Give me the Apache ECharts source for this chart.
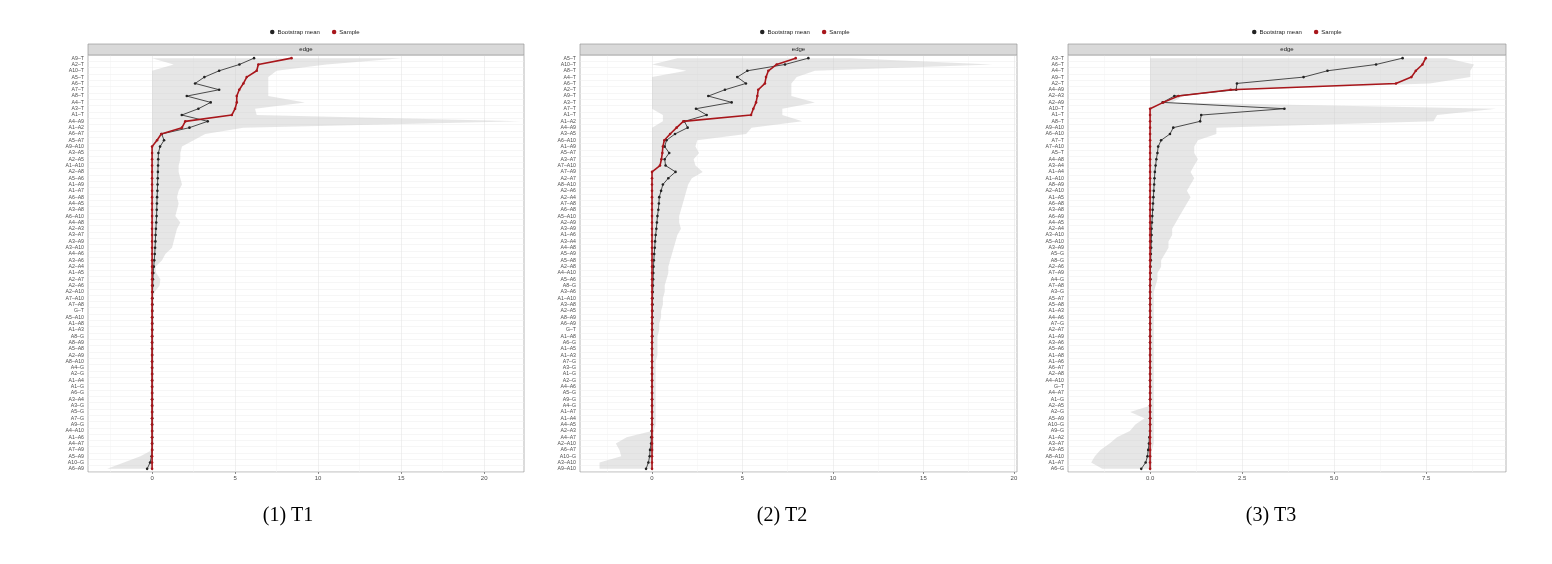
<!DOCTYPE html>
<html><head><meta charset="utf-8">
<script src="https://cdn.jsdelivr.net/npm/echarts@6/dist/echarts.min.js"></script>
<style>html,body{margin:0;padding:0;background:#fff}#c{width:1552px;height:564px}</style>
</head><body><div id="c"></div>
<script>
const cats1 = ['A9–T','A2–T','A10–T','A5–T','A6–T','A7–T','A8–T','A4–T','A3–T','A1–T','A4–A9','A1–A2','A6–A7','A5–A7','A9–A10','A3–A5','A2–A5','A1–A10','A2–A8','A5–A6','A1–A9','A1–A7','A6–A8','A4–A5','A3–A8','A6–A10','A4–A8','A2–A3','A3–A7','A3–A9','A3–A10','A4–A6','A3–A6','A2–A4','A1–A5','A2–A7','A2–A6','A2–A10','A7–A10','A7–A8','G–T','A5–A10','A1–A8','A1–A3','A8–G','A8–A9','A5–A8','A2–A9','A8–A10','A4–G','A2–G','A1–A4','A1–G','A6–G','A3–A4','A3–G','A5–G','A7–G','A9–G','A4–A10','A1–A6','A4–A7','A7–A9','A5–A9','A10–G','A6–A9'];
const sample1 = [8.4,6.4,6.3,5.7,5.5,5.25,5.1,5.1,5.0,4.8, 2.0,1.8,0.55,0.3,0,0,0,0,0,0, 0,0,0,0,0,0,0,0,0,0, 0,0,0,0,0,0,0,0,0,0, 0,0,0,0,0,0,0,0,0,0, 0,0,0,0,0,0,0,0,0,0, 0,0,0,0,0,0];
const mean1 = [6.14,5.26,4.04,3.15,2.59,4.04,2.09,3.53,2.79,1.79, 3.35,2.25,0.58,0.72,0.48,0.38,0.37,0.36,0.35,0.34, 0.33,0.32,0.3,0.29,0.28,0.27,0.25,0.23,0.21,0.2, 0.18,0.16,0.13,0.1,0.07,0.05,0.04,0.03,0.02,0.02, 0.01,0.01,0.01,0.01,0,0,0,0,0,0, 0,0,0,0,0,0,0,0,0,0, 0,0,0,-0.03,-0.12,-0.3];
const lower1 = [0,1.3,0,0,0,0,0,0,0,0, 0,0,0,0,0,0,0,0,0,0, 0,0,0,0,0,0,0,0,0,0, 0,0,0,0,0,0,0,0,0,0, 0,0,0,0,0,0,0,0,0,0, 0,0,0,0,0,0,0,0,0,0, 0,0,0,-0.7,-1.7,-2.7];
const upper1 = [15,10.5,7.5,7,7,7,7,9.2,6.2,6.3, 22.2,5.5,3.2,2.5,1.8,1.7,1.7,1.6,1.6,1.7, 1.8,1.6,1.5,1.6,1.5,1.4,1.7,1.5,1.4,1.3, 1.2,0.8,0.6,0.2,0.25,0.5,0.45,0.15,0.1,0.1, 0.1,0.1,0.1,0.1,0.1,0.1,0.1,0.1,0.1,0.1, 0.1,0.1,0.1,0.1,0.1,0.1,0.1,0.1,0.1,0.1, 0.1,0.1,0.05,0.05,0.05,0.05];

const cats2 = ['A5–T','A10–T','A8–T','A4–T','A6–T','A2–T','A9–T','A3–T','A7–T','A1–T','A1–A2','A4–A9','A3–A5','A6–A10','A1–A9','A5–A7','A3–A7','A7–A10','A7–A9','A2–A7','A8–A10','A2–A6','A2–A4','A7–A8','A6–A8','A5–A10','A2–A9','A3–A9','A1–A6','A3–A4','A4–A8','A5–A9','A5–A8','A2–A8','A4–A10','A5–A6','A8–G','A3–A6','A1–A10','A3–A8','A2–A5','A8–A9','A6–A9','G–T','A1–A8','A6–G','A1–A5','A1–A3','A7–G','A3–G','A1–G','A2–G','A4–A6','A5–G','A9–G','A4–G','A1–A7','A1–A4','A4–A5','A2–A3','A4–A7','A2–A10','A6–A7','A10–G','A3–A10','A9–A10'];
const sample2 = [7.94,6.89,6.43,6.3,6.24,5.87,5.82,5.75,5.6,5.47, 1.73,1.36,1.0,0.68,0.6,0.57,0.52,0.44,0,0, 0,0,0,0,0,0,0,0,0,0, 0,0,0,0,0,0,0,0,0,0, 0,0,0,0,0,0,0,0,0,0, 0,0,0,0,0,0,0,0,0,0, 0,0,0,0,0,0];
const mean2 = [8.64,7.35,5.27,4.71,5.19,4.03,3.11,4.4,2.43,3.02, 1.79,1.97,1.27,0.8,0.7,0.95,0.7,0.75,1.3,0.9, 0.6,0.5,0.4,0.38,0.35,0.3,0.27,0.24,0.2,0.17, 0.15,0.12,0.1,0.08,0.07,0.06,0.05,0.04,0.03,0.03, 0.02,0.02,0.01,0.01,0.01,0,0,0,0,0, 0,0,0,0,0,0,0,0,0,-0.02, -0.04,-0.05,-0.11,-0.13,-0.2,-0.33];
const lower2 = [1.4,0,1.9,0,0,0,0,0,0,0.6, 0.6,0,0,0,0,0,0,0,0,0, 0,0,0,0,0,0,0,0,0,0, 0,0,0,0,0,0,0,0,0,0, 0,0,0,0,0,0,0,0,0,0, 0,0,0,0,0,0,0,0,0,0, -1.4,-2.0,-1.8,-1.7,-2.9,-2.9];
const upper2 = [11,18.8,9,8,7.7,7.7,7.7,9,7.2,7.2, 8.3,5.5,5.2,2.5,2.4,2.6,2.3,2.4,2.8,2.2, 2.0,1.9,1.8,1.7,1.6,1.5,1.5,1.6,1.4,1.3, 1.2,1.1,1.0,0.9,0.9,0.8,0.7,0.7,0.6,0.6, 0.5,0.5,0.4,0.4,0.3,0.3,0.3,0.3,0.2,0.2, 0.2,0.2,0.2,0.2,0.2,0.2,0.2,0.2,0.2,0.1, 0.1,0.1,0.1,0.05,0.05,0.05];

const cats3 = ['A3–T','A6–T','A4–T','A9–T','A2–T','A4–A9','A2–A3','A2–A9','A10–T','A1–T','A8–T','A9–A10','A6–A10','A7–T','A7–A10','A5–T','A4–A8','A3–A4','A1–A4','A1–A10','A8–A9','A2–A10','A1–A5','A6–A8','A3–A8','A6–A9','A4–A5','A2–A4','A3–A10','A5–A10','A3–A9','A5–G','A8–G','A2–A6','A7–A9','A4–G','A7–A8','A3–G','A5–A7','A5–A8','A1–A3','A4–A6','A7–G','A2–A7','A1–A9','A3–A6','A5–A6','A1–A8','A1–A6','A6–A7','A2–A8','A4–A10','G–T','A4–A7','A1–G','A2–A5','A2–G','A5–A9','A10–G','A9–G','A1–A2','A3–A7','A3–A5','A8–A10','A1–A7','A6–G'];
const sample3 = [7.49,7.4,7.22,7.1,6.68,2.19,0.77,0.36,0,0, 0,0,0,0,0,0,0,0,0,0, 0,0,0,0,0,0,0,0,0,0, 0,0,0,0,0,0,0,0,0,0, 0,0,0,0,0,0,0,0,0,0, 0,0,0,0,0,0,0,0,0,0, 0,0,0,0,0,0];
const mean3 = [6.86,6.14,4.82,4.17,2.36,2.34,0.66,0.34,3.65,1.39, 1.36,0.63,0.54,0.3,0.22,0.2,0.17,0.15,0.13,0.12, 0.11,0.1,0.09,0.08,0.07,0.06,0.05,0.04,0.04,0.03, 0.03,0.02,0.02,0.01,0.01,0.01,0,0,0,0, 0,0,0,0,0,0,0,0,0,0, 0,0,0,0,0,0,0,0,0,0, -0.02,-0.03,-0.05,-0.07,-0.12,-0.24];
const lower3 = [0,0,0,0,0,0,0,0,0,0, 0,0,0,0,0,0,0,0,0,0, 0,0,0,0,0,0,0,0,0,0, 0,0,0,0,0,0,0,0,0,0, 0,0,0,0,0,0,0,0,0,0, 0,0,0,0,0,0,-0.54,-0.15,-0.4,-0.55, -0.9,-1.1,-1.35,-1.5,-1.6,-1.3];
const upper3 = [8.06,8.8,8.7,8.7,7.6,2.5,0.9,0.6,9.4,7.8, 7.7,1.8,1.8,1.3,1.2,1.2,1.3,1.2,1.1,1.2, 1.1,1.0,1.1,1.0,0.9,0.8,0.7,0.6,0.6,0.5, 0.5,0.4,0.3,0.3,0.2,0.2,0.15,0.1,0.1,0.1, 0.1,0.1,0.1,0.1,0.1,0.1,0.1,0.1,0.1,0.1, 0.1,0.1,0.1,0.1,0.1,0.1,0.1,0.1,0.1,0.1, 0.1,0.1,0.05,0.05,0.05,0.05];

const majorTicks1 = [0,5,10,15,20];
const minorTicks1 = [-2.5,2.5,7.5,12.5,17.5];
const majorTicks2 = [0,5,10,15,20];
const minorTicks2 = [-2.5,2.5,7.5,12.5,17.5];
const majorTicks3 = [0,2.5,5,7.5];
const minorTicks3 = [-1.25,1.25,3.75,6.25,8.75];
const captions = ['(1) T1','(2) T2','(3) T3'];
const legendNames = ['Bootstrap mean','Sample'];

const panels = [
  {cats:cats1, sample:sample1, mean:mean1, lo:lower1, hi:upper1, major:majorTicks1, minor:minorTicks1, min:-3.86, max:22.4, left:88, right:524, fmt:v=>String(v), cap:captions[0], capX:288, legX:265},
  {cats:cats2, sample:sample2, mean:mean2, lo:lower2, hi:upper2, major:majorTicks2, minor:minorTicks2, min:-3.98, max:20.17, left:580, right:1017, fmt:v=>String(v), cap:captions[1], capX:782, legX:755},
  {cats:cats3, sample:sample3, mean:mean3, lo:lower3, hi:upper3, major:majorTicks3, minor:minorTicks3, min:-2.23, max:9.67, left:1068, right:1506, fmt:v=>v.toFixed(1), cap:captions[2], capX:1271, legX:1247}
];
const TOP = 55, BOTTOM = 472;
const grids = [], xAxes = [], yAxes = [], series = [], legends = [], graphics = [];
panels.forEach((p, g) => {
  grids.push({left:p.left, top:TOP, width:p.right-p.left, height:BOTTOM-TOP, show:true, borderColor:'#9a9a9a', borderWidth:0.7, backgroundColor:'#fff', containLabel:false});
  xAxes.push({gridIndex:g, type:'value', position:'bottom', min:p.min, max:p.max,
    axisLine:{show:false, onZero:false}, axisTick:{show:true, length:2, customValues:p.major, lineStyle:{color:'#444', width:0.6}},
    axisLabel:{customValues:p.major, fontSize:6, color:'#4D4D4D', margin:3, formatter:p.fmt, fontFamily:'Liberation Sans'},
    splitLine:{show:true, lineStyle:{color:'#e6e6e6', width:0.6}}});
  xAxes.push({gridIndex:g, type:'value', position:'top', min:p.min, max:p.max,
    axisLine:{show:false, onZero:false}, axisTick:{show:false, customValues:p.minor}, axisLabel:{show:false, customValues:p.minor},
    splitLine:{show:true, lineStyle:{color:'#f2f2f2', width:0.5}}});
  yAxes.push({gridIndex:g, type:'category', data:p.cats, inverse:true, boundaryGap:true, position:'left',
    axisLine:{show:false, onZero:false}, axisTick:{show:false},
    axisLabel:{interval:0, fontSize:5.2, color:'#4D4D4D', margin:4, fontFamily:'Liberation Sans'},
    splitLine:{show:true, interval:0, lineStyle:{color:'#ececec', width:0.5}}});
  const lo = p.lo, hi = p.hi, n = p.cats.length;
  series.push({type:'custom', name:'band'+g, xAxisIndex:g*2, yAxisIndex:g, silent:true, z:1, clip:true,
    data: p.cats.map((c,i)=>[lo[i], hi[i], i]),
    encode:{x:[0,1], y:2},
    renderItem:(params, api) => {
      if (params.dataIndex !== 0) return null;
      const pts = [];
      for (let i=0;i<n;i++) pts.push(api.coord([hi[i], i]));
      for (let i=n-1;i>=0;i--) pts.push(api.coord([lo[i], i]));
      return {type:'polygon', shape:{points:pts}, style:{fill:'rgba(200,200,200,0.45)', stroke:null}};
    }});
  series.push({type:'line', name:legendNames[0], xAxisIndex:g*2, yAxisIndex:g, z:3,
    data:p.mean.map((v,i)=>[v, p.cats[i]]), symbol:'circle', symbolSize:2.6, showSymbol:true,
    lineStyle:{color:'#222', width:0.8}, itemStyle:{color:'#222'}, animation:false});
  series.push({type:'line', name:legendNames[1], xAxisIndex:g*2, yAxisIndex:g, z:4,
    data:p.sample.map((v,i)=>[v, p.cats[i]]), symbol:'circle', symbolSize:2.6, showSymbol:true,
    lineStyle:{color:'#a8161b', width:1.6}, itemStyle:{color:'#a8161b'}, animation:false});
  legends.push({data:legendNames, left:p.legX, top:24, icon:'circle', itemWidth:4.5, itemHeight:4.5, itemGap:12,
    textStyle:{fontSize:6, color:'#222', fontFamily:'Liberation Sans', padding:[0,0,0,-2]}, selectedMode:false});
  graphics.push({type:'rect', shape:{x:p.left, y:44, width:p.right-p.left, height:TOP-44}, style:{fill:'#d9d9d9', stroke:'#9a9a9a', lineWidth:0.7}, z:10});
  graphics.push({type:'text', x:(p.left+p.right)/2, y:49.5, style:{text:'edge', fontSize:6, fill:'#1a1a1a', align:'center', verticalAlign:'middle', fontFamily:'Liberation Sans'}, z:11});
  graphics.push({type:'text', x:p.capX, y:516, style:{text:p.cap, fontSize:20, fill:'#000', align:'center', verticalAlign:'middle', fontFamily:'Liberation Serif'}, z:11});
});
const chart = echarts.init(document.getElementById('c'), null, {renderer:'canvas'});
chart.setOption({animation:false, backgroundColor:'#fff', grid:grids, xAxis:xAxes, yAxis:yAxes, series:series, legend:legends, graphic:graphics});
</script></body></html>
